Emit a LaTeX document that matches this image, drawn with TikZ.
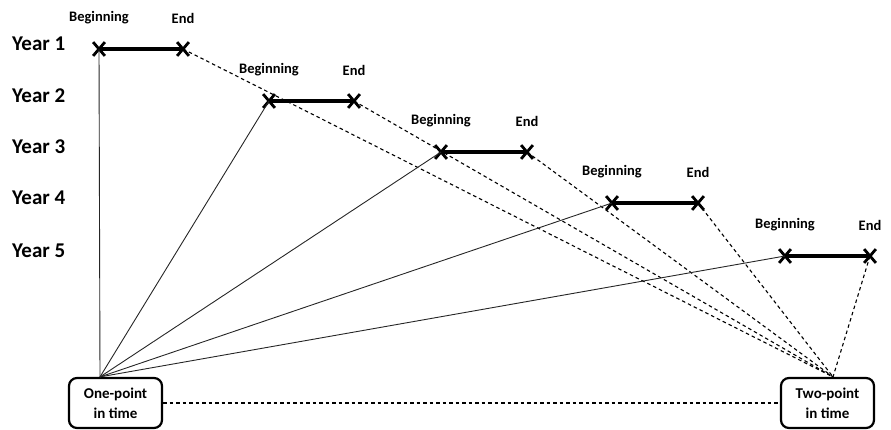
\documentclass[tikz,border=0pt]{standalone}
\usepackage{fontspec}
\setsansfont{Carlito}
\usepackage{tikz}
\usetikzlibrary{shapes.misc,positioning}

\begin{document}
\begin{tikzpicture}[x=1pt,y=-1pt,
	cross/.style={cross out, draw, line width=2.8pt, minimum width=9pt, minimum height=11pt, inner sep=0pt},
	seg/.style={line width=3.5pt},
	lbl/.style={font=\sffamily\bfseries\fontsize{14.5}{17}\selectfont},
	yearlbl/.style={font=\sffamily\bfseries\fontsize{21}{25}\selectfont, anchor=west, inner sep=0pt},
	ptbox/.style={draw, line width=2.2pt, rounded corners=8pt, minimum width=93pt, minimum height=50pt, align=center, font=\sffamily\bfseries\fontsize{15}{20}\selectfont},
	dashline/.style={line width=1.1pt, dash pattern=on 3.5pt off 3pt},
	fanline/.style={line width=0.9pt, draw=black!85}]
\useasboundingbox (0,0) rectangle (891,429);

\node[ptbox] (one) at (115.5,403) {One-point\\in time};
\node[ptbox] (two) at (827.5,403) {Two-point\\in time};
\coordinate (c1) at ([xshift=-15.5pt]one.north);
\coordinate (c2) at ([xshift=5.5pt]two.north);
\draw[dashline] (one) -- (two);

\foreach \i/\bx/\ex/\y in {1/99/183/49, 2/269/354/101, 3/441/527/152, 4/612/698/203, 5/785/870/256} {
	\node[yearlbl] (y\i) at (12,\y-5) {Year \i};
	\node[cross] (b\i) at (\bx,\y) {};
	\node[cross] (e\i) at (\ex,\y) {};
	\draw[seg] (b\i.center) -- (e\i.center);
	\node[lbl] (lb\i) at ([yshift=31pt]b\i.center) {Beginning};
	\node[lbl] (le\i) at ([yshift=31pt]e\i.center) {End};
	\draw[fanline] (c1) -- (b\i.center);
	\draw[dashline] (e\i.center) -- (c2);
}
\end{tikzpicture}
\end{document}
